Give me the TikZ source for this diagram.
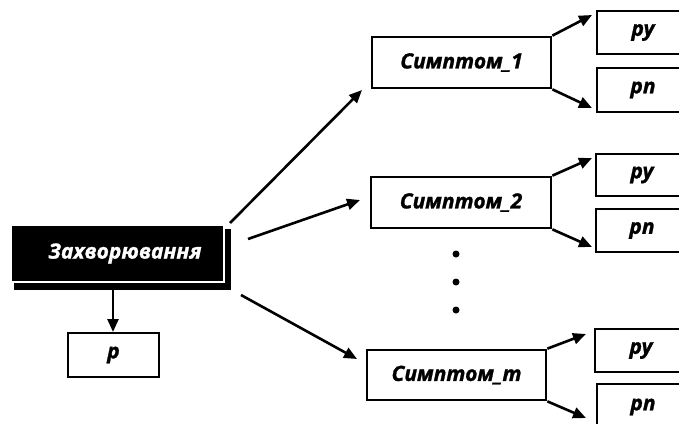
\documentclass[tikz,border=0pt]{standalone}
\usepackage{fontspec}
\setmainfont{Open Sans}[BoldItalicFeatures={FakeBold=1.2}]
\usetikzlibrary{arrows.meta}
\begin{document}
\begin{tikzpicture}[x=1pt,y=-1pt,
  box/.style={draw=black, line width=2.7pt, rectangle, inner sep=0pt, font=\fontsize{21}{24}\selectfont\bfseries\itshape},
  mainbox/.style={fill=black, draw=white, line width=1.4pt, rectangle, inner sep=0pt, text=white, font=\fontsize{21}{24}\selectfont\bfseries\itshape},
  arr/.style={line width=2.6pt, -{Triangle[length=13pt,width=11pt]}},
  dotmark/.style={circle, fill=black, inner sep=0pt, minimum size=7pt}
]
\useasboundingbox (0,0) rectangle (679,423);
\clip (0,0) rectangle (679,423);
% shadow and main box
\fill[black] (14,229) rectangle (231,290);
\node[mainbox, minimum width=213pt, minimum height=57pt] (main) at (117.5,253.5) {\hspace{15pt}Захворювання};
\node[box, minimum width=91pt, minimum height=44pt] (p) at (113.5,355) {p};
% symptoms
\node[box, minimum width=179pt, minimum height=51pt] (s1) at (461.5,62.5) {Симптом\_1};
\node[box, minimum width=180pt, minimum height=51pt] (s2) at (461,202.5) {Симптом\_2};
\node[box, minimum width=179pt, minimum height=50pt] (sm) at (456.5,375) {Симптом\_m\hspace{12pt}};
% outcome boxes
\node[box, minimum width=92pt, minimum height=43pt] (s1py) at (643,32.5) {py};
\node[box, minimum width=92pt, minimum height=44pt] (s1pn) at (643,90) {pn};
\node[box, minimum width=92pt, minimum height=42pt] (s2py) at (642,175) {py};
\node[box, minimum width=92pt, minimum height=43pt] (s2pn) at (642,230.5) {pn};
\node[box, minimum width=92pt, minimum height=43pt] (smpy) at (641,350.5) {py};
\node[box, minimum width=92pt, minimum height=46pt] (smpn) at (643,407) {pn};
% dots
\node[dotmark] (d1) at (456,254) {};
\node[dotmark] (d2) at (456,282) {};
\node[dotmark] (d3) at (456,310) {};
% coordinates
\coordinate (m1) at (230,223);
\coordinate (m2) at (248,239);
\coordinate (m3) at (241,295);
\coordinate (m0) at (113,290);
\coordinate (t1) at (362,90);
\coordinate (t2) at (360,200);
\coordinate (t3) at (357,359);
\coordinate (t0) at (113,332);
\coordinate (a1) at (592,15);
\coordinate (b1) at (592,108);
\coordinate (a2) at (592,158);
\coordinate (b2) at (592,247);
\coordinate (am) at (586,334);
\coordinate (bm) at (586,418);
% connectors
\draw[arr] (m1) -- (t1);
\draw[arr] (m2) -- (t2);
\draw[arr] (m3) -- (t3);
\draw[arr] (m0) -- (t0);
\draw[arr] (s1.north east) -- (a1);
\draw[arr] (s1.south east) -- (b1);
\draw[arr] (s2.north east) -- (a2);
\draw[arr] (s2.south east) -- (b2);
\draw[arr] (sm.north east) -- (am);
\draw[arr] (sm.south east) -- (bm);
\end{tikzpicture}
\end{document}
